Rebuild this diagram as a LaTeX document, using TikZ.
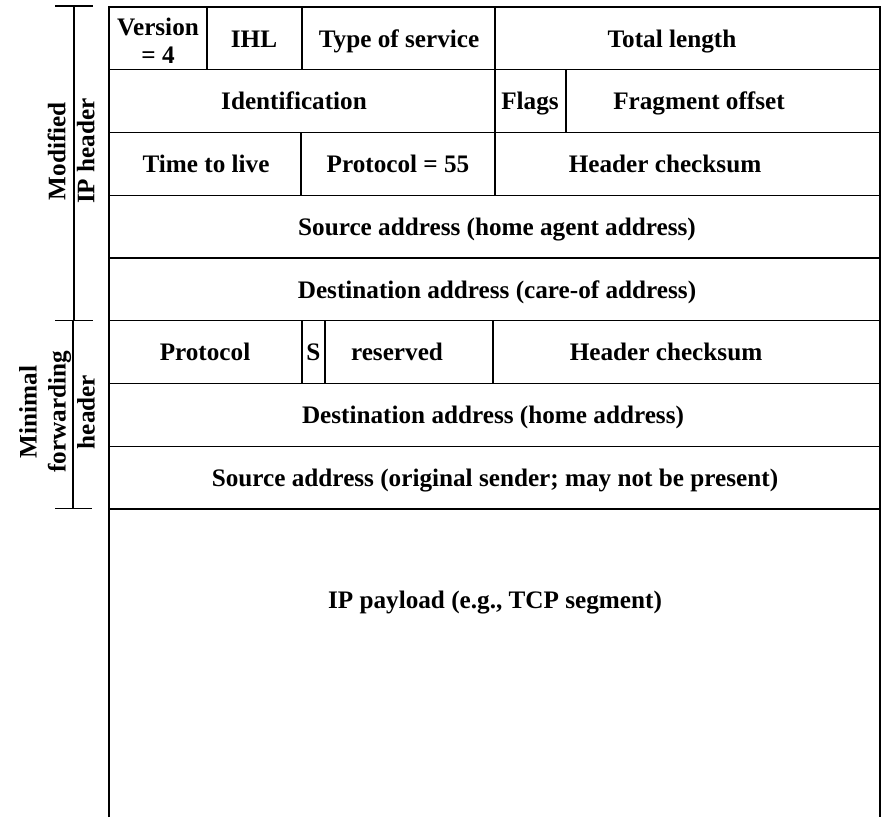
\documentclass[tikz,border=0pt]{standalone}
\usepackage{fontspec}
\setmainfont{Liberation Serif}
\begin{document}
\begin{tikzpicture}[x=1pt,y=-1pt,line width=1.2pt,
  lbl/.style={font=\fontsize{25.2}{28}\selectfont\bfseries,inner sep=0pt,anchor=base},
  twol/.style={font=\fontsize{25.2}{28}\selectfont\bfseries,inner sep=0pt,align=center,anchor=base},
  side/.style={font=\fontsize{25.2}{29}\selectfont\bfseries,align=center,rotate=90,inner sep=0pt},
  brk/.style={line width=1.1pt}]
\useasboundingbox (0,0) rectangle (882,817);
% outer frame (open at the bottom)
\draw (109,817) -- (109,7) -- (880,7) -- (880,817);
% row separators
\foreach \y in {69.75,132.5,195.25,258,320.75,383.5,446.25,509}
  \draw (109,\y) -- (880,\y);
% column separators
\draw (207,7) -- (207,69.75);
\draw (302,7) -- (302,69.75);
\draw (495,7) -- (495,69.75);
\draw (495,69.75) -- (495,132.5);
\draw (566,69.75) -- (566,132.5);
\draw (301,132.5) -- (301,195.25);
\draw (495,132.5) -- (495,195.25);
\draw (302,320.75) -- (302,383.5);
\draw (325,320.75) -- (325,383.5);
\draw (493,320.75) -- (493,383.5);
% brackets
\draw[brk] (55,6) -- (93,6);
\draw[brk] (74,6) -- (74,320.5);
\draw[brk] (55,320.5) -- (93,320.5);
\draw[brk] (73,320.5) -- (73,508.5);
\draw[brk] (55,508.5) -- (92,508.5);
\node[side] (mod) at (71,151) {Modified\\IP header};
\node[side] (minf) at (57,412) {Minimal\\forwarding\\header};
% row 1
\node[twol] (ver) at (158,63) {Version\\= 4};
\node[lbl] (ihl) at (254,47) {IHL};
\node[lbl] (tos) at (399,47) {Type of service};
\node[lbl] (tl) at (672,47) {Total length};
% row 2
\node[lbl] (id) at (294,109.5) {Identification};
\node[lbl] (fl) at (530,109.5) {Flags};
\node[lbl] (fo) at (699,109.5) {Fragment offset};
% row 3
\node[lbl] (ttl) at (206,172.5) {Time to live};
\node[lbl] (pr) at (398,172.5) {Protocol = 55};
\node[lbl] (hc) at (665,172.5) {Header checksum};
% row 4, 5
\node[lbl] (sa) at (497,235.5) {Source address (home agent address)};
\node[lbl] (da) at (497,298.5) {Destination address (care-of address)};
% row 6
\node[lbl] (pr2) at (205,360.5) {Protocol};
\node[lbl] (s) at (313.5,360.5) {S};
\node[lbl] (res) at (397,360.5) {reserved};
\node[lbl] (hc2) at (666,360.5) {Header checksum};
% row 7, 8
\node[lbl] (dha) at (493,423.5) {Destination address (home address)};
\node[lbl] (sos) at (495,486.5) {Source address (original sender; may not be present)};
% payload
\node[lbl] (pay) at (495,608) {IP payload (e.g., TCP segment)};
\end{tikzpicture}
\end{document}
